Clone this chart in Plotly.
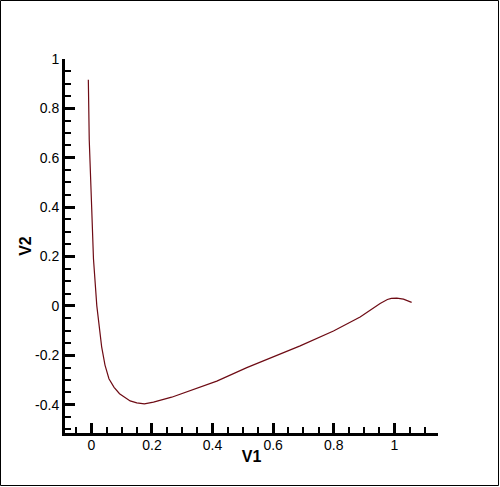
import plotly.graph_objects as go

# curve
v1 = [-0.010, -0.007, 0.001, 0.007, 0.018, 0.025, 0.034, 0.045, 0.058, 0.075,
      0.093, 0.128, 0.150, 0.175, 0.205, 0.265, 0.337, 0.414, 0.513, 0.600,
      0.689, 0.799, 0.887, 0.953, 0.977, 0.990, 1.008, 1.030, 1.057]
v2 = [0.916, 0.673, 0.400, 0.190, 0.000, -0.085, -0.166, -0.240, -0.295, -0.330,
      -0.356, -0.385, -0.393, -0.397, -0.390, -0.370, -0.340, -0.305, -0.250, -0.207,
      -0.162, -0.102, -0.045, 0.010, 0.026, 0.030, 0.031, 0.027, 0.014]

x_ticks = [0, 0.2, 0.4, 0.6, 0.8, 1]
x_labels = ["0", "0.2", "0.4", "0.6", "0.8", "1"]
y_ticks = [-0.4, -0.2, 0, 0.2, 0.4, 0.6, 0.8, 1]
y_labels = ["-0.4", "-0.2", "0", "0.2", "0.4", "0.6", "0.8", "1"]

W, H = 500, 487
L, R, T, B = 65, 62, 59, 54
pw, ph = W - L - R, H - T - B

fig = go.Figure()
fig.add_trace(go.Scatter(x=v1, y=v2, mode="lines",
                         line=dict(color="#6e0b14", width=1.2),
                         showlegend=False))

font = dict(family="Liberation Sans, Arial", size=14, color="black")
title_font = dict(family="Liberation Sans, Arial", size=16, color="black")

axis_common = dict(
    showline=True, linecolor="black", linewidth=3, mirror=False,
    showgrid=False, zeroline=False,
    ticks="inside", ticklen=10, tickwidth=3, tickcolor="black",
    tickfont=font,
    minor=dict(ticks="inside", ticklen=6, tickwidth=1.5, tickcolor="black", dtick=0.05),
)

fig.update_xaxes(range=[-0.087, 1.144], tickvals=x_ticks, ticktext=x_labels,
                 ticklabelstandoff=-3,
                 title=dict(text="<b>V1</b>", font=title_font, standoff=0),
                 **axis_common)
fig.update_yaxes(range=[-0.515, 1.0], tickvals=y_ticks, ticktext=y_labels,
                 title=dict(text="<b>V2</b>", font=title_font, standoff=0),
                 **axis_common)

# outer frame around the whole picture
fig.add_shape(type="rect", xref="paper", yref="paper",
              x0=(0.5 - L) / pw, x1=(W - 1.5 - L) / pw,
              y0=(T + ph - (H - 1.5)) / ph, y1=(T + ph - 0.5) / ph,
              line=dict(color="black", width=1))

fig.update_layout(width=W, height=H, margin=dict(l=L, r=R, t=T, b=B, autoexpand=False),
                  plot_bgcolor="white", paper_bgcolor="white")

fig.write_html("out.html", config={"displayModeBar": False},
               post_script="document.body.style.margin='0';")
